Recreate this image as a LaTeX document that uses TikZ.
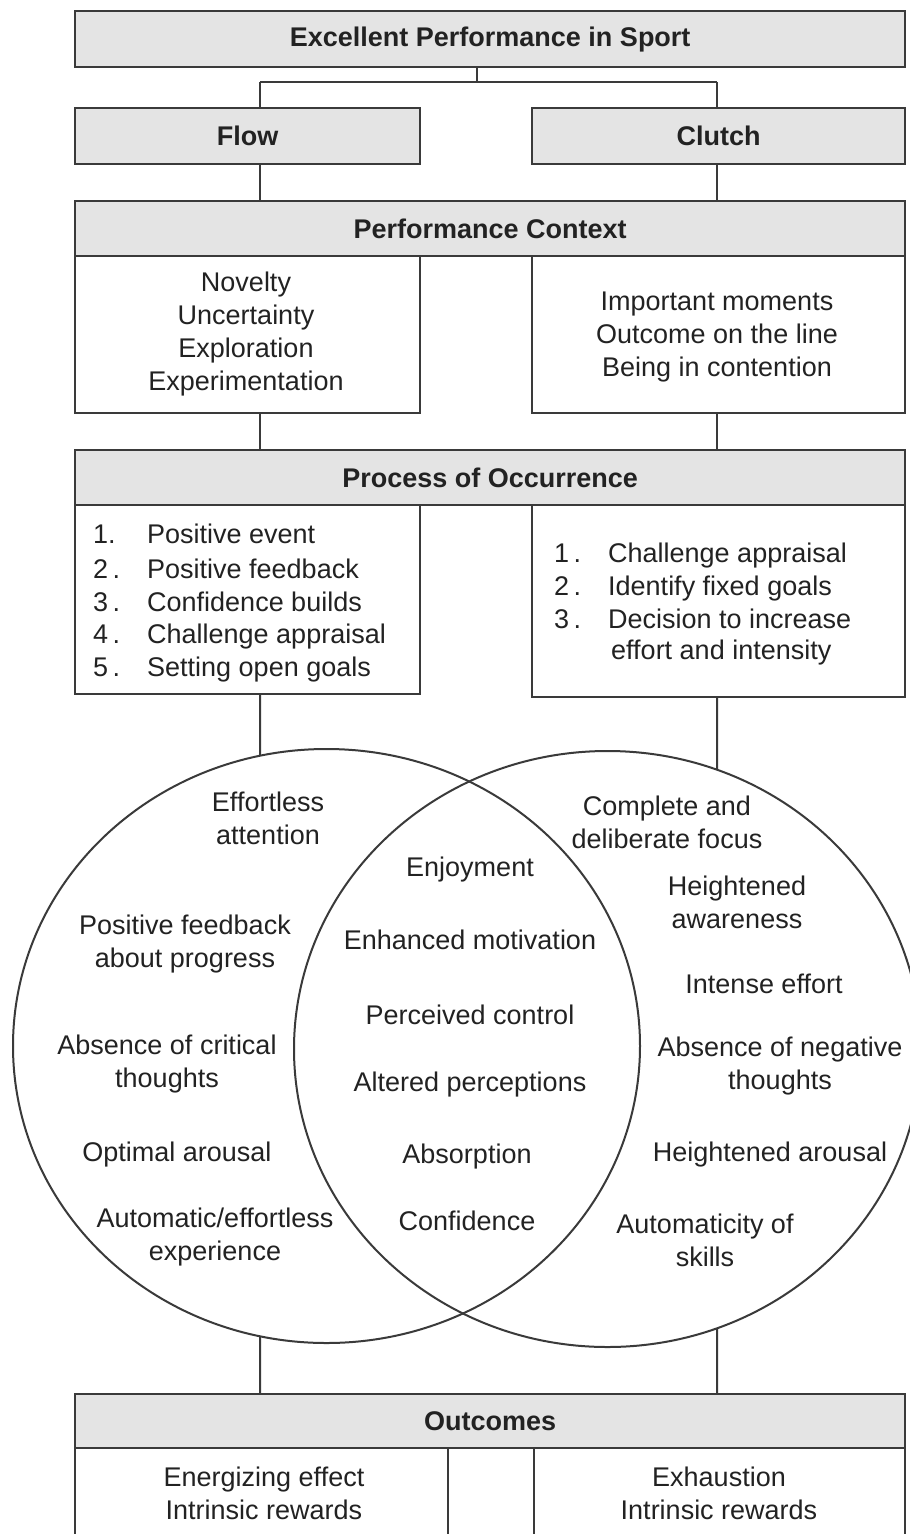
\documentclass[tikz,border=0pt]{standalone}
\usepackage{fontspec}
\setmainfont{Liberation Sans}
\usetikzlibrary{intersections}
\definecolor{edge}{HTML}{3A3A3A}
\definecolor{headfill}{HTML}{E4E4E4}
\definecolor{ink}{HTML}{222222}
\begin{document}
\begin{tikzpicture}[x=1pt,y=-1pt,
  every node/.style={inner sep=0pt, text=ink, font=\fontsize{27}{33}\selectfont},
  head/.style={draw=edge, fill=headfill, line width=2.4pt, anchor=north west,
    font=\fontsize{27}{33}\selectfont\bfseries},
  cell/.style={draw=edge, line width=2pt, anchor=north west, align=center},
  txt/.style={align=center},
  item/.style={anchor=base west},
  link/.style={draw=edge, line width=2pt}]
\clip (0,0) rectangle (910,1534);
\fill[white] (0,0) rectangle (910,1534);

% boxes of the upper chart
\node[head, minimum width=830, minimum height=56] (top) at (74,10) {Excellent Performance in Sport};
\node[head, minimum width=345, minimum height=56] (flow) at (74,107) {Flow};
\node[head, minimum width=373, minimum height=56] (clutch) at (531,107) {Clutch};
\node[head, minimum width=830, minimum height=55] (pc) at (74,200) {Performance Context};
\node[cell, minimum width=345, minimum height=157] (ctxL) at (74,255) {};
\node[cell, minimum width=373, minimum height=157] (ctxR) at (531,255) {};
\node[head, minimum width=830, minimum height=55] (poo) at (74,449) {Process of Occurrence};
\node[cell, minimum width=345, minimum height=189] (procL) at (74,504) {};
\node[cell, minimum width=373, minimum height=192] (procR) at (531,504) {};

% context texts
\node[txt] (ctxLt) at (246,334) {Novelty\\Uncertainty\\Exploration\\Experimentation};
\node[txt] (ctxRt) at (717,337) {Important moments\\Outcome on the line\\Being in contention};

% process lists (positions are baselines)
\foreach \n/\y/\t in {1./543/Positive event, 2\,./578/Positive feedback,
    3\,./611/Confidence builds, 4\,./643/Challenge appraisal, 5\,./676/Setting open goals} {
  \node[item] at (93,\y) {\n};
  \node[item] at (147,\y) {\t};
}
\foreach \n/\y/\t in {1\,./562/Challenge appraisal, 2\,./595/Identify fixed goals,
    3\,./628/Decision to increase} {
  \node[item] at (554,\y) {\n};
  \node[item] at (608,\y) {\t};
}
\node[item] (procRl) at (611,659) {effort and intensity};

% outcome boxes
\node[head, minimum width=830, minimum height=54] (out) at (74,1393) {Outcomes};
\node[cell, minimum width=373, minimum height=130] (outL) at (74,1447) {};
\node[cell, minimum width=371, minimum height=130] (outR) at (533,1447) {};
\node[txt] (outLt) at (264,1493) {Energizing effect\\Intrinsic rewards};
\node[txt] (outRt) at (719,1493) {Exhaustion\\Intrinsic rewards};

% connectors between the boxes
\coordinate (jT) at (477,82);
\coordinate (jL) at (260,82);
\coordinate (jR) at (717,82);
\draw[link] (top.south -| jT) -- (jT);
\draw[link] (jL) -- (jR);
\draw[link] (jL) -- (flow.north -| jL);
\draw[link] (jR) -- (clutch.north -| jR);
\draw[link] (flow.south -| jL) -- (pc.north -| jL);
\draw[link] (clutch.south -| jR) -- (pc.north -| jR);
\draw[link] (ctxL.south -| jL) -- (poo.north -| jL);
\draw[link] (ctxR.south -| jR) -- (poo.north -| jR);

% the two overlapping ellipses
\draw[edge, line width=2pt, name path=ellL] (326.5,1046) ellipse [x radius=313.5, y radius=297];
\draw[edge, line width=2pt, name path=ellR] (607.5,1049) ellipse [x radius=313.5, y radius=298];

\path[name path=vL] (procL.south -| jL) -- (out.north -| jL);
\path[name path=vR] (procR.south -| jR) -- (out.north -| jR);
\path[name intersections={of=vL and ellL, sort by=vL, by={eLt,eLb}}];
\path[name intersections={of=vR and ellR, sort by=vR, by={eRt,eRb}}];
\draw[link] (procL.south -| jL) -- (eLt);
\draw[link] (procR.south -| jR) -- (eRt);
\draw[link] (eLb) -- (out.north -| jL);
\draw[link] (eRb) -- (out.north -| jR);

% flow side
\node[txt] (f1) at (268,818) {Effortless\\attention};
\node[txt] (f2) at (185,944) {Positive feedback\\about progress};
\node[txt] (f3) at (167,1064) {Absence of critical\\thoughts};
\node[txt] (f4) at (177,1155) {Optimal arousal};
\node[txt] (f5) at (215,1237) {Automatic/effortless\\experience};

% shared states
\node (s1) at (470,870) {Enjoyment};
\node (s2) at (470,940) {Enhanced motivation};
\node (s3) at (470,1015) {Perceived control};
\node (s4) at (470,1085) {Altered perceptions};
\node (s5) at (467,1157) {Absorption};
\node (s6) at (467,1221) {Confidence};

% clutch side
\node[txt] (c1) at (667,822) {Complete and\\deliberate focus};
\node[txt] (c2) at (737,902) {Heightened\\awareness};
\node (c3) at (764,984) {Intense effort};
\node[txt] (c4) at (780,1066) {Absence of negative\\thoughts};
\node (c5) at (770,1155) {Heightened arousal};
\node[txt] (c6) at (705,1240) {Automaticity of\\skills};
\end{tikzpicture}
\end{document}
